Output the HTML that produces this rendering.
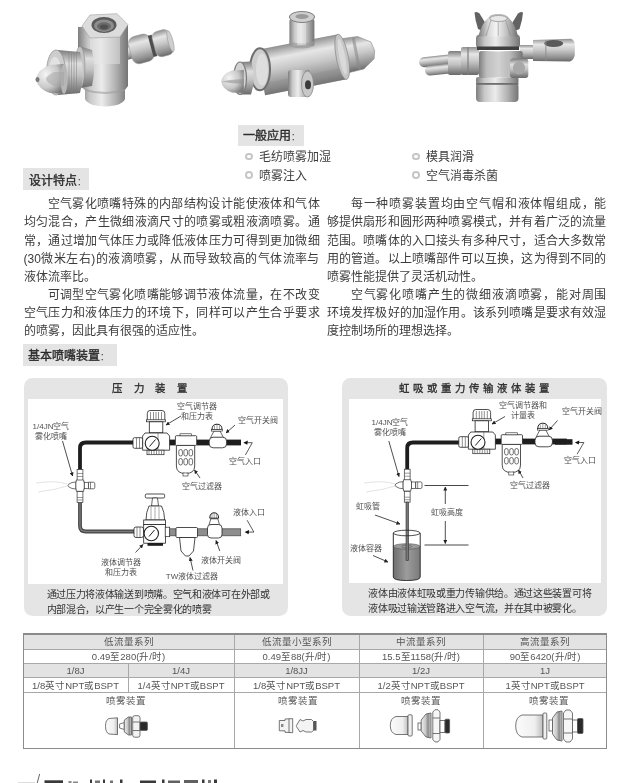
<!DOCTYPE html>
<html lang="zh-CN">
<head>
<meta charset="utf-8">
<style>
html,body{margin:0;padding:0;background:#fff;}
body{filter:blur(0.3px);}
body{width:621px;height:783px;overflow:hidden;position:relative;font-family:"Liberation Sans",sans-serif;color:#3a3a3a;}
.a{position:absolute;}
.lbl{position:absolute;background:#e4e4e4;font-size:12px;font-weight:normal;-webkit-text-stroke:0.35px #2a2a2a;color:#2a2a2a;line-height:21px;}
.lbl span span{-webkit-text-stroke:0;}
.ln{position:absolute;font-size:12px;height:18px;line-height:18px;text-align:justify;text-align-last:justify;white-space:normal;overflow:hidden;color:#3c3c3c;}
.ln.nj{text-align-last:left;}
.bul{position:absolute;font-size:12px;line-height:16px;color:#3c3c3c;}
.bul i{position:absolute;left:-13.8px;top:3.9px;width:3.6px;height:3.6px;border:2.1px solid #c6c6c6;border-radius:50%;}
.box{position:absolute;background:#e5e5e5;border-radius:8.5px;}
.box .in{position:absolute;background:#fff;}
.box .tt{position:absolute;left:0;right:0;top:3.5px;text-align:center;font-size:10.4px;font-weight:normal;-webkit-text-stroke:0.3px #2a2a2a;color:#2a2a2a;line-height:16px;white-space:nowrap;}
.cap{position:absolute;font-size:10px;letter-spacing:-0.3px;line-height:14px;height:14px;color:#333;white-space:nowrap;}
.cap.nj{text-align-last:left;}
.dl{position:absolute;font-size:8px;line-height:10px;color:#505050;margin-top:1px;white-space:nowrap;text-align:center;}
.tb{position:absolute;font-size:9.5px;color:#555;line-height:14px;text-align:center;white-space:nowrap;}
</style>
</head>
<body>

<!-- PHOTOS -->
<svg class="a" style="left:0;top:0" width="621" height="112" viewBox="0 0 621 112" id="photos">
<defs>
 <linearGradient id="mh" x1="0" y1="0" x2="1" y2="0">
  <stop offset="0" stop-color="#7e7e7e"/><stop offset="0.2" stop-color="#c8c8c8"/><stop offset="0.45" stop-color="#ececec"/><stop offset="0.75" stop-color="#b0b0b0"/><stop offset="1" stop-color="#747474"/>
 </linearGradient>
 <linearGradient id="mv" x1="0" y1="0" x2="0" y2="1">
  <stop offset="0" stop-color="#909090"/><stop offset="0.25" stop-color="#e6e6e6"/><stop offset="0.5" stop-color="#c8c8c8"/><stop offset="0.85" stop-color="#8c8c8c"/><stop offset="1" stop-color="#686868"/>
 </linearGradient>
 <linearGradient id="mv2" x1="0" y1="0" x2="0" y2="1">
  <stop offset="0" stop-color="#7c7c7c"/><stop offset="0.3" stop-color="#dedede"/><stop offset="0.55" stop-color="#c4c4c4"/><stop offset="1" stop-color="#6a6a6a"/>
 </linearGradient>
 <linearGradient id="body2" x1="0" y1="0" x2="0.25" y2="1">
  <stop offset="0" stop-color="#dcdcdc"/><stop offset="0.35" stop-color="#e8e8e8"/><stop offset="0.7" stop-color="#c2c2c2"/><stop offset="1" stop-color="#8a8a8a"/>
 </linearGradient>
 <linearGradient id="domeh" x1="0" y1="0" x2="1" y2="0">
  <stop offset="0" stop-color="#7a7a7a"/><stop offset="0.25" stop-color="#d8d8d8"/><stop offset="0.45" stop-color="#f4f4f4"/><stop offset="0.7" stop-color="#c4c4c4"/><stop offset="1" stop-color="#707070"/>
 </linearGradient>
 <radialGradient id="dome" cx="0.4" cy="0.3" r="0.8">
  <stop offset="0" stop-color="#fafafa"/><stop offset="0.45" stop-color="#d0d0d0"/><stop offset="1" stop-color="#6d6d6d"/>
 </radialGradient>
 <radialGradient id="tipg" cx="0.35" cy="0.35" r="0.75">
  <stop offset="0" stop-color="#f5f5f5"/><stop offset="0.6" stop-color="#c8c8c8"/><stop offset="1" stop-color="#7a7a7a"/>
 </radialGradient>
</defs>

<!-- ============ photo 1 ============ -->
<g>
 <!-- right fitting -->
 <g transform="rotate(-15 141 49)">
  <rect x="123" y="42" width="9" height="14" fill="url(#mv)"/>
  <rect x="130" y="35" width="22.5" height="28" rx="7" fill="url(#mv)" stroke="#9a9a9a" stroke-width="0.5"/>
  <rect x="151" y="38" width="4" height="22" fill="#4e4e4e"/>
  <rect x="154.5" y="36" width="18" height="26" rx="6" fill="url(#mv)" stroke="#9a9a9a" stroke-width="0.5"/>
  <ellipse cx="171.5" cy="49" rx="2.5" ry="11" fill="#cfcfcf" stroke="#9a9a9a" stroke-width="0.6"/>
 </g>
 <!-- hex column: upper hex prism -->
 <path d="M78,27 L78,64 L90,70 L120,70 L128,64 L128,25 Z" fill="url(#mh)"/>
 <path d="M90,38 L90,70 L120,70 L120,37Z" fill="#e6e6e6" opacity="0.5"/>
 <!-- lower cylinder -->
 <path d="M80,64 L80,86 L85,90 L85,99 Q88,106 105,106.5 Q122,106 125,99 L125,90 L128,86 L128,64 Z" fill="url(#mh)"/>
 <path d="M85,89 Q105,95 125,89 L125,91 Q105,97 85,91Z" fill="#9c9c9c" opacity="0.6"/>
 <path d="M82,26 L90,15 L117,13.7 L128,24.7 L120,37 L90,38 Z" fill="#dcdcdc" stroke="#a0a0a0" stroke-width="0.6"/>
 <ellipse cx="104" cy="25" rx="12.5" ry="8" fill="#5a5a5a"/>
 <ellipse cx="104" cy="25.7" rx="10" ry="6.2" fill="#8e8e8e"/>
 <ellipse cx="104" cy="26.4" rx="7" ry="4.2" fill="#6a6a6a"/>
 <ellipse cx="104" cy="27" rx="4" ry="2.4" fill="#505050"/>
 <!-- ring between nut and body -->
 <path d="M79,46 L92,50 Q96,68 92,86 L79,88 Z" fill="url(#mv2)"/>
 <ellipse cx="80" cy="67" rx="5" ry="20.5" fill="#c4c4c4" stroke="#8a8a8a" stroke-width="0.6"/>
 <!-- knurled nut -->
 <path d="M58,50 L80,52 Q86,72 80,93 L58,95 Z" fill="url(#mv2)"/>
 <g stroke="#7e7e7e" stroke-width="0.6" opacity="0.8">
  <line x1="69" y1="52" x2="69" y2="94"/><line x1="71.5" y1="52" x2="71.5" y2="94"/><line x1="74" y1="52" x2="74" y2="94"/><line x1="76.5" y1="52" x2="76.5" y2="94"/>
 </g>
 <ellipse cx="56" cy="72.5" rx="9.5" ry="22.5" fill="#cdcdcd" stroke="#8e8e8e" stroke-width="0.7"/>
 <ellipse cx="55" cy="73" rx="6.5" ry="16" fill="#e2e2e2"/>
 <!-- tip -->
 <path d="M64,64 L50,65 Q38,69 35.8,79 Q38,89 50,93 L64,94 Z" fill="url(#tipg)"/>
 <ellipse cx="64" cy="79" rx="3.5" ry="15" fill="#b6b6b6"/>
 <path d="M64,72 L54,72 Q46,76 46,79 Q46,82 54,86 L64,86Z" fill="#a2a2a2" opacity="0.5"/>
 <ellipse cx="37.5" cy="79.5" rx="2" ry="2.5" fill="#7a7a7a"/>
</g>

<!-- ============ photo 2 ============ -->
<g>
 <g transform="rotate(-11 300 65)">
  <!-- right nozzle -->
  <path d="M343,47 L362,48 L374,56 L376,65 L374,73 L362,81 L343,82 Z" fill="url(#mv)" stroke="#8e8e8e" stroke-width="0.6"/>
  <rect x="356" y="48" width="3" height="33" fill="#8a8a8a" opacity="0.6"/>
  <!-- barrel -->
  <rect x="260" y="42" width="83" height="46" fill="url(#mv)"/>
  <rect x="260" y="76" width="83" height="12" fill="#8c8c8c" opacity="0.35"/>
  <ellipse cx="343" cy="65" rx="6" ry="23" fill="#c6c6c6" stroke="#888" stroke-width="0.7"/>
  <ellipse cx="343" cy="65" rx="3" ry="18" fill="#dadada"/>
 </g>
 <!-- left rim (o-ring) -->
 <ellipse cx="260" cy="69.3" rx="10" ry="21" fill="#cdcdcd" stroke="#6e6e6e" stroke-width="2"/>
 <ellipse cx="262" cy="69.5" rx="6" ry="16" fill="#dedede"/>
 <!-- disc -->
 <path d="M240,62 L251,61.5 Q257,78 251,94.5 L240,94.4Z" fill="url(#mv2)"/>
 <ellipse cx="240" cy="78.2" rx="6.5" ry="16.2" fill="#d2d2d2" stroke="#7a7a7a" stroke-width="1.2"/>
 <!-- tip -->
 <path d="M243.8,70 L232,70.5 Q222,74 221.2,81.5 Q222,89 232,92.5 L243.8,93Z" fill="url(#tipg)"/>
 <path d="M243.8,79 L230,80 L222,81.5 L230,83 L243.8,84Z" fill="#8e8e8e" opacity="0.55"/>
 <!-- top fitting -->
 <rect x="289.4" y="19" width="25" height="27" rx="2" fill="url(#mh)"/>
 <path d="M289.4,46 Q302,51 314.4,46 L314.4,41 Q302,46 289.4,41Z" fill="#9a9a9a" opacity="0.7"/>
 <rect x="297" y="20" width="9" height="25" fill="#e8e8e8" opacity="0.5"/>
 <ellipse cx="302" cy="17" rx="12.6" ry="5.5" fill="#cfcfcf" stroke="#7e7e7e" stroke-width="1"/>
 <ellipse cx="302" cy="16.5" rx="6.5" ry="2.6" fill="#9a9a9a"/>
 <!-- bottom fitting -->
 <rect x="288" y="70" width="22" height="27" rx="3" fill="url(#mh)"/>
 <ellipse cx="307.5" cy="84" rx="6" ry="13" fill="#c8c8c8" stroke="#8a8a8a" stroke-width="0.8"/>
 <ellipse cx="308" cy="84.7" rx="3" ry="4.5" fill="#3a3a3a"/>
</g>

<!-- ============ photo 3 ============ -->
<g>
 <!-- left tubes -->
 <g transform="rotate(-6 459 60)">
  <rect x="419" y="53.5" width="42" height="10" rx="5" fill="url(#mv)"/>
  <rect x="424" y="62.5" width="37" height="10" rx="5" fill="url(#mv)"/>
 </g>
 <!-- left fitting nuts -->
 <rect x="448" y="51" width="14" height="24" rx="2" fill="url(#mv2)"/>
 <rect x="461" y="47" width="18" height="28" rx="2" fill="url(#mv)"/>
 <rect x="467" y="47" width="2" height="28" fill="#7e7e7e" opacity="0.6"/>
 <!-- right rod + eye -->
 <rect x="520" y="45" width="14" height="14" fill="url(#mv)"/>
 <path d="M533,40 L571,38.8 Q575,40 574.8,46 L574.8,55 Q574,60 570,61.4 L533,61 Z" fill="url(#mv)"/>
 <ellipse cx="553.7" cy="43.5" rx="9.5" ry="3.4" fill="#5a5a5a"/>
 <rect x="545" y="40" width="1.5" height="21" fill="#8a8a8a" opacity="0.6"/>
 <!-- bottom cylinder -->
 <rect x="476" y="83" width="42.5" height="19" rx="4" fill="url(#mh)"/>
 <rect x="476" y="77" width="42.5" height="7" rx="2" fill="url(#mh)"/>
 <rect x="476" y="83" width="42.5" height="1.8" fill="#6e6e6e"/>
 <!-- body block -->
 <rect x="479" y="51" width="43.7" height="27" rx="2" fill="url(#mh)"/>
 <rect x="486" y="52" width="22" height="25" fill="#b8b8b8" opacity="0.5"/>
 <!-- right hex nut -->
 <rect x="510" y="58.5" width="18.3" height="19.5" rx="3" fill="url(#mv2)"/>
 <ellipse cx="519" cy="68" rx="6" ry="6.5" fill="#a8a8a8"/>
 <!-- ring -->
 <rect x="476" y="34.6" width="44" height="14" rx="4" fill="url(#mh)"/>
 <rect x="477" y="46.5" width="42" height="3.5" fill="#3f3f3f"/>
 <!-- wings -->
 <path d="M474.5,12.5 Q477,11 479.5,13.5 L486,24 L482.5,31 L478,29 Q475,20 474.5,12.5Z" fill="#626262"/>
 <path d="M523,12.5 Q520.5,11 518,13.5 L511.5,24 L515,31 L519.5,29 Q522.5,20 523,12.5Z" fill="#626262"/>
 <!-- dome -->
 <path d="M478.4,36.5 Q481,24 489.5,16.5 L507.5,16.5 Q515.5,24 518,36.5 Z" fill="url(#domeh)"/>
 <g stroke="#8a8a8a" stroke-width="0.7" opacity="0.8"><line x1="491" y1="20" x2="486" y2="36"/><line x1="498.2" y1="20" x2="498.2" y2="36"/><line x1="505.5" y1="20" x2="510.5" y2="36"/></g>
 <ellipse cx="498.4" cy="17.5" rx="9" ry="3" fill="#e4e4e4" stroke="#9a9a9a" stroke-width="0.7"/>
</g>
 <ellipse cx="498.5" cy="18.5" rx="8.5" ry="3" fill="#e8e8e8" stroke="#9a9a9a" stroke-width="0.7"/>
</g>
 <ellipse cx="498.5" cy="18.5" rx="8.5" ry="3" fill="#e8e8e8" stroke="#9a9a9a" stroke-width="0.7"/>
</g>
</svg>

<!-- labels -->
<div class="lbl" style="left:238px;top:125px;width:66px;height:21px;"><span style="position:absolute;left:5px;top:1px">一般应用<span style="font-weight:normal;font-size:9px">：</span></span></div>
<div class="bul" style="left:259px;top:149px;">毛纺喷雾加湿<i></i></div>
<div class="bul" style="left:259px;top:167.5px;">喷雾注入<i></i></div>
<div class="bul" style="left:426px;top:149px;">模具润滑<i></i></div>
<div class="bul" style="left:426px;top:167.5px;">空气消毒杀菌<i></i></div>

<div class="lbl" style="left:23px;top:168px;width:66px;height:22px;"><span style="position:absolute;left:6px;top:2.5px">设计特点<span style="font-weight:normal;font-size:9px">：</span></span></div>

<!-- paragraphs left -->
<div class="ln" style="left:47.5px;top:195px;width:272px;">空气雾化喷嘴特殊的内部结构设计能使液体和气体</div>
<div class="ln" style="left:23.5px;top:213px;width:296px;">均匀混合，产生微细液滴尺寸的喷雾或粗液滴喷雾。通</div>
<div class="ln" style="left:23.5px;top:231.5px;width:296px;">常，通过增加气体压力或降低液体压力可得到更加微细</div>
<div class="ln" style="left:23.5px;top:249.5px;width:296px;">(30微米左右)的液滴喷雾，从而导致较高的气体流率与</div>
<div class="ln nj" style="left:23.5px;top:267.5px;width:296px;">液体流率比。</div>
<div class="ln" style="left:47.5px;top:285.7px;width:272px;">可调型空气雾化喷嘴能够调节液体流量，在不改变</div>
<div class="ln" style="left:23.5px;top:303.9px;width:296px;">空气压力和液体压力的环境下，同样可以产生合乎要求</div>
<div class="ln nj" style="left:23.5px;top:321.8px;width:296px;">的喷雾，因此具有很强的适应性。</div>

<!-- paragraphs right -->
<div class="ln" style="left:350.8px;top:195px;width:255.7px;">每一种喷雾装置均由空气帽和液体帽组成，能</div>
<div class="ln" style="left:326.8px;top:213px;width:279.7px;">够提供扇形和圆形两种喷雾模式，并有着广泛的流量</div>
<div class="ln" style="left:326.8px;top:231.5px;width:279.7px;">范围。喷嘴体的入口接头有多种尺寸，适合大多数常</div>
<div class="ln" style="left:326.8px;top:249.5px;width:279.7px;">用的管道。以上喷嘴部件可以互换，这为得到不同的</div>
<div class="ln nj" style="left:326.8px;top:267.5px;width:279.7px;">喷雾性能提供了灵活机动性。</div>
<div class="ln" style="left:350.8px;top:285.7px;width:255.7px;">空气雾化喷嘴产生的微细液滴喷雾，能对周围</div>
<div class="ln" style="left:326.8px;top:303.9px;width:279.7px;">环境发挥极好的加湿作用。该系列喷嘴是要求有效湿</div>
<div class="ln nj" style="left:326.8px;top:321.8px;width:279.7px;">度控制场所的理想选择。</div>

<div class="lbl" style="left:23px;top:344px;width:94px;height:22px;"><span style="position:absolute;left:5px;top:1.5px">基本喷嘴装置<span style="font-weight:normal;font-size:9px">：</span></span></div>

<!-- diagram boxes -->
<div class="box" style="left:23.5px;top:377.7px;width:264.3px;height:238.5px;">
  <div class="tt" style="letter-spacing:11.5px;left:-1px;">压力装置</div>
  <div class="in" style="left:4.8px;top:21px;width:254.4px;height:185px;"></div>
  <div class="cap" style="left:23px;top:210.5px;">通过压力将液体输送到喷嘴。空气和液体可在外部或</div>
  <div class="cap" style="left:23px;top:225.7px;">内部混合，以产生一个完全雾化的喷雾</div>
</div>
<div class="box" style="left:342.2px;top:377.7px;width:264.5px;height:238.2px;">
  <div class="tt" style="letter-spacing:4px;left:3px;">虹吸或重力传输液体装置</div>
  <div class="in" style="left:6.7px;top:21.3px;width:252.1px;height:184.4px;"></div>
  <div class="cap" style="left:26px;top:209.3px;">液体由液体虹吸或重力传输供给。通过这些装置可将</div>
  <div class="cap" style="left:26px;top:224.2px;">液体吸过输送管路进入空气流，并在其中被雾化。</div>
</div>

<!-- DIAGRAMS -->
<svg class="a" style="left:0;top:0" width="621" height="620" viewBox="0 0 621 620">
<defs>
 <marker id="ah" viewBox="0 0 10 10" refX="9" refY="5" markerWidth="5" markerHeight="5" orient="auto">
  <path d="M0,0 L10,5 L0,10 Z" fill="#222"/>
 </marker>
 <linearGradient id="liq" x1="0" y1="0" x2="1" y2="0">
  <stop offset="0" stop-color="#6e6e6e"/><stop offset="0.5" stop-color="#9c9c9c"/><stop offset="1" stop-color="#7a7a7a"/>
 </linearGradient>
 <g id="nozT">
  <!-- centered at (0,0) body center -->
  <rect x="-2.9" y="-16" width="5.8" height="11" fill="#fff" stroke="#333" stroke-width="0.7"/>
  <line x1="-2.9" y1="-12" x2="2.9" y2="-12" stroke="#555" stroke-width="0.6"/>
  <line x1="-2.9" y1="-9" x2="2.9" y2="-9" stroke="#555" stroke-width="0.6"/>
  <rect x="-2.9" y="6" width="5.8" height="11" fill="#fff" stroke="#333" stroke-width="0.7"/>
  <line x1="-2.9" y1="12" x2="2.9" y2="12" stroke="#555" stroke-width="0.6"/>
  <line x1="-2.9" y1="14.5" x2="2.9" y2="14.5" stroke="#555" stroke-width="0.6"/>
  <path d="M-3.7,-3.7 L-3.7,-5.5 L3.7,-5.5 L3.7,-3.7 L4.3,-3.7 L4.3,3.7 L3.7,3.7 L3.7,5.8 L-3.7,5.8 L-3.7,3.7 L-4.3,3.7 L-4.3,-3.7Z" fill="#fff" stroke="#333" stroke-width="0.7"/>
  <path d="M-4.3,-3.5 L-8,-3 L-11.5,-1.2 L-12,0 L-11.5,1.2 L-8,3 L-4.3,3.5Z" fill="#fff" stroke="#333" stroke-width="0.7"/>
  <rect x="4.3" y="-3.2" width="4" height="6.4" fill="#fff" stroke="#333" stroke-width="0.7"/>
  <path d="M8.5,-3.3 L13.5,-3.3 Q14.8,-3.3 14.8,-1.8 L14.8,1.8 Q14.8,3.3 13.5,3.3 L8.5,3.3Z" fill="#fff" stroke="#333" stroke-width="0.7"/>
  <line x1="10.5" y1="-3.3" x2="10.5" y2="3.3" stroke="#333" stroke-width="0.6"/>
 </g>
 <g id="airset">
  <!-- regulator; origin at page coords of left diagram -->
  <path d="M147.3,420.5 L147.3,413.5 Q147.3,410.5 150,410.5 L162,410.5 Q164.8,410.5 164.8,413.5 L164.8,420.5Z" fill="#fff" stroke="#222" stroke-width="0.8"/>
  <g stroke="#444" stroke-width="0.6"><line x1="150.5" y1="412" x2="150.5" y2="420"/><line x1="153.5" y1="412" x2="153.5" y2="420"/><line x1="156" y1="412" x2="156" y2="420"/><line x1="158.5" y1="412" x2="158.5" y2="420"/><line x1="161.5" y1="412" x2="161.5" y2="420"/></g>
  <rect x="146.5" y="419.8" width="19" height="2" fill="#fff" stroke="#222" stroke-width="0.7"/>
  <rect x="149.3" y="421.8" width="13.5" height="11" fill="#fff" stroke="#222" stroke-width="0.8"/>
  <path d="M142.6,436 L145,433 L167,433 L169.6,436 L169.6,450.2 L142.6,450.2Z" fill="#fff" stroke="#222" stroke-width="0.8"/>
  <line x1="158" y1="433" x2="158" y2="450" stroke="#555" stroke-width="0.6"/>
  <rect x="147" y="450.2" width="17" height="4.5" fill="#fff" stroke="#222" stroke-width="0.7"/>
  <g stroke="#444" stroke-width="0.6"><line x1="149" y1="450.5" x2="149" y2="454.5"/><line x1="151.5" y1="450.5" x2="151.5" y2="454.5"/><line x1="154" y1="450.5" x2="154" y2="454.5"/><line x1="156.5" y1="450.5" x2="156.5" y2="454.5"/><line x1="159" y1="450.5" x2="159" y2="454.5"/><line x1="161.5" y1="450.5" x2="161.5" y2="454.5"/></g>
  <circle cx="152.2" cy="443.3" r="7" fill="#fff" stroke="#222" stroke-width="1.1"/>
  <line x1="149.5" y1="446.5" x2="155.5" y2="439.5" stroke="#222" stroke-width="1"/>
  <rect x="133" y="437.7" width="9.6" height="10.6" rx="1.5" fill="#fff" stroke="#222" stroke-width="0.8"/>
  <line x1="136.5" y1="437.7" x2="136.5" y2="448.3" stroke="#444" stroke-width="0.6"/>
  <line x1="139.5" y1="437.7" x2="139.5" y2="448.3" stroke="#444" stroke-width="0.6"/>
  <!-- tube reg->filter -->
  <rect x="169.6" y="439.6" width="6" height="5.8" fill="#1e1e1e"/>
  <!-- filter -->
  <path d="M176.4,445.4 L194.7,445.4 L194.7,466 Q194.7,473.5 185.5,473.5 Q176.4,473.5 176.4,466Z" fill="#fff" stroke="#222" stroke-width="0.8"/>
  <rect x="183" y="473" width="5" height="3" fill="#fff" stroke="#222" stroke-width="0.6"/>
  <g fill="none" stroke="#333" stroke-width="0.7">
   <rect x="178.8" y="449.5" width="3.6" height="6.5" rx="1.8"/><rect x="183.9" y="449.5" width="3.6" height="6.5" rx="1.8"/><rect x="189" y="449.5" width="3.6" height="6.5" rx="1.8"/>
   <rect x="178.8" y="458.5" width="3.6" height="6.5" rx="1.8"/><rect x="183.9" y="458.5" width="3.6" height="6.5" rx="1.8"/><rect x="189" y="458.5" width="3.6" height="6.5" rx="1.8"/>
  </g>
  <rect x="175.4" y="435.7" width="21.3" height="9.7" rx="1" fill="#fff" stroke="#222" stroke-width="0.8"/>
  <rect x="180" y="433.8" width="11.5" height="2" fill="#fff" stroke="#222" stroke-width="0.6"/>
  <!-- tube filter->end -->
  <rect x="196.7" y="439.6" width="44.3" height="5.8" fill="#1e1e1e"/>
  <!-- valve -->
  <path d="M214,431 L220,431 L223.5,437.7 L210.5,437.7Z" fill="#fff" stroke="#222" stroke-width="0.7"/>
  <path d="M212,429.6 Q212,424.2 217,424.2 Q222,424.2 222,429.6 Z" fill="#fff" stroke="#222" stroke-width="1"/>
  <g stroke="#444" stroke-width="0.5"><line x1="214.5" y1="425.5" x2="214.5" y2="429.3"/><line x1="217" y1="424.8" x2="217" y2="429.3"/><line x1="219.5" y1="425.5" x2="219.5" y2="429.3"/></g>
  <rect x="211.5" y="429.5" width="11" height="1.6" fill="#fff" stroke="#222" stroke-width="0.6"/>
  <rect x="209.2" y="437.2" width="17.4" height="10.6" rx="4" fill="#fff" stroke="#222" stroke-width="0.8"/>
 </g>
</defs>

<!-- ===== LEFT DIAGRAM ===== -->
<path d="M80,470 L80,448 Q80,442.5 86,442.5 L133,442.5" fill="none" stroke="#1e1e1e" stroke-width="3.8"/>
<use href="#airset"/>
<!-- liquid pipe -->
<path d="M80,502 L80,526 Q80,531.5 86,531.5 L135,531.5" fill="none" stroke="#454545" stroke-width="3.8"/>
<path d="M80,502 L80,526 Q80,531.5 86,531.5 L135,531.5" fill="none" stroke="#7a7a7a" stroke-width="1.4"/>
<use href="#nozT" x="80" y="485.5"/>
<!-- spray lines -->
<g stroke="#dcdcdc" stroke-width="0.8" fill="none"><path d="M67,484 Q55,480 36,483"/><path d="M67,486 Q55,490 38,492"/></g>
<!-- liquid regulator -->
<rect x="145.3" y="494" width="19.3" height="4" rx="1.2" fill="#fff" stroke="#222" stroke-width="0.8"/>
<path d="M152.5,498 L157.5,498 L158.5,506 L151.5,506Z" fill="#fff" stroke="#222" stroke-width="0.7"/>
<path d="M149,506 L161.5,506 Q164.6,512 164.6,520 L146,520 Q146,512 149,506Z" fill="#fff" stroke="#222" stroke-width="0.8"/>
<g stroke="#555" stroke-width="0.5"><line x1="151" y1="507" x2="151" y2="519.5"/><line x1="155" y1="507" x2="155" y2="519.5"/><line x1="159" y1="507" x2="159" y2="519.5"/></g>
<rect x="143.7" y="520" width="21.7" height="4.6" fill="#fff" stroke="#222" stroke-width="0.8"/>
<rect x="143.7" y="524.6" width="21.7" height="18.6" fill="#fff" stroke="#222" stroke-width="0.8"/>
<rect x="147.5" y="543" width="15.5" height="2.8" fill="#1e1e1e"/>
<rect x="165.2" y="527.2" width="4.5" height="9.5" fill="#fff" stroke="#222" stroke-width="0.7"/>
<circle cx="151.3" cy="533.5" r="7.2" fill="#fff" stroke="#222" stroke-width="1.1"/>
<line x1="149" y1="536.5" x2="154.5" y2="530" stroke="#222" stroke-width="1"/>
<rect x="134" y="527" width="9.5" height="10.5" rx="2" fill="#fff" stroke="#222" stroke-width="0.8"/>
<line x1="137" y1="527" x2="137" y2="537.5" stroke="#444" stroke-width="0.6"/>
<line x1="140" y1="527" x2="140" y2="537.5" stroke="#444" stroke-width="0.6"/>
<!-- grey pipe to right -->
<rect x="169.7" y="528.8" width="71" height="7" fill="#8e8e8e" stroke="#444" stroke-width="0.7"/>
<!-- TW filter -->
<path d="M179.5,537.5 L195,537.5 L193.5,551 L189,556 L185.5,556 L181,551Z" fill="#fff" stroke="#222" stroke-width="0.8"/>
<rect x="176" y="527.5" width="21.5" height="10" rx="1" fill="#fff" stroke="#222" stroke-width="0.8"/>
<!-- liquid valve -->
<path d="M210.8,518.8 L217.8,518.8 L219.5,524.8 L209,524.8Z" fill="#fff" stroke="#222" stroke-width="0.7"/>
<path d="M209.8,518.2 Q209.8,512.8 214.2,512.8 Q218.6,512.8 218.6,518.2 Z" fill="#fff" stroke="#222" stroke-width="1"/>
<g stroke="#444" stroke-width="0.5"><line x1="212" y1="513" x2="212" y2="518"/><line x1="214.2" y1="512.3" x2="214.2" y2="518"/><line x1="216.4" y1="513" x2="216.4" y2="518"/></g>
<rect x="207.5" y="524.5" width="14.5" height="13.5" rx="3.5" fill="#fff" stroke="#222" stroke-width="0.8"/>
<!-- arrows / pointers left -->
<g stroke="#222" stroke-width="0.8" fill="none" marker-end="url(#ah)">
 <line x1="62.5" y1="441" x2="72.6" y2="476"/>
 <line x1="181" y1="416" x2="166" y2="425"/>
 <line x1="235" y1="425" x2="226" y2="433"/>
 <line x1="200" y1="478" x2="194.5" y2="470"/>
 <line x1="135.5" y1="552.5" x2="143" y2="544.5"/>
 <line x1="219.8" y1="551" x2="216" y2="540.5"/>
 <line x1="193" y1="570.5" x2="190" y2="557.5"/>
</g>
<g stroke="#333" stroke-width="0.8" fill="none">
 <path d="M245.4,455 L252.3,442.7 L246,442.7"/>
 <path d="M247.1,520.2 L253.9,532.1 L247,532.1"/>
</g>
<g fill="#111">
 <path d="M243.3,442.7 L247.8,440.6 L247.3,444.8Z"/>
 <path d="M244.6,532.1 L249.1,530 L248.6,534.2Z"/>
</g>

<!-- ===== RIGHT DIAGRAM ===== -->
<path d="M407.2,470 L407.2,448 Q407.2,442.5 413,442.5 L460,442.5" fill="none" stroke="#1e1e1e" stroke-width="3.8"/>
<use href="#airset" transform="translate(325.8,-1)"/>
<rect x="555" y="439.2" width="17.5" height="5.5" fill="#1e1e1e"/>
<use href="#nozT" x="407.2" y="485.2"/>
<g stroke="#dcdcdc" stroke-width="0.8" fill="none"><path d="M395,484 Q383,480 364,483"/><path d="M395,486 Q383,490 366,492"/></g>
<!-- beaker -->
<path d="M393.3,534 L393.3,577 Q393.3,580.5 406.7,580.5 Q420.2,580.5 420.2,577 L420.2,534" fill="url(#liq)" stroke="none"/>
<rect x="393.3" y="530" width="26.9" height="16.5" fill="#fff"/>
<ellipse cx="406.7" cy="546.5" rx="13.4" ry="2.8" fill="#9a9a9a" stroke="#555" stroke-width="0.6"/>
<ellipse cx="406.7" cy="546.5" rx="5" ry="1.5" fill="none" stroke="#555" stroke-width="0.6"/>
<!-- siphon tube -->
<rect x="406" y="502" width="2.6" height="58.5" fill="#777" stroke="#333" stroke-width="0.6"/>
<path d="M393.3,533 L393.3,577 Q393.3,580.5 406.7,580.5 Q420.2,580.5 420.2,577 L420.2,533" fill="none" stroke="#222" stroke-width="0.9"/>
<ellipse cx="406.7" cy="533" rx="13.4" ry="2.8" fill="none" stroke="#222" stroke-width="0.8"/>
<!-- dimension -->
<g stroke="#333" stroke-width="0.9">
 <line x1="424.5" y1="485.5" x2="468.5" y2="485.5"/>
 <line x1="424.5" y1="545" x2="468.5" y2="545"/>
</g>
<g stroke="#222" stroke-width="0.8" fill="none" marker-end="url(#ah)">
 <line x1="445.3" y1="504" x2="445.3" y2="487"/>
 <line x1="445.3" y1="521" x2="445.3" y2="543.5"/>
</g>
<g stroke="#222" stroke-width="0.8" fill="none" marker-end="url(#ah)">
 <line x1="388.8" y1="441" x2="399" y2="476.6"/>
 <line x1="505" y1="416.5" x2="492" y2="424"/>
 <line x1="557.5" y1="420.5" x2="549" y2="430"/>
 <line x1="523" y1="478" x2="518.5" y2="470"/>
 <line x1="375" y1="515" x2="400" y2="524"/>
 <line x1="373" y1="555.5" x2="388" y2="562"/>
</g>
<g stroke="#333" stroke-width="0.8" fill="none">
 <path d="M577.1,454.2 L583.9,442.5 L577.5,442.5"/>
</g>
<path d="M574.8,442.5 L579.3,440.4 L578.8,444.6Z" fill="#111"/>
</svg>
<!-- labels -->
<div class="dl" style="left:21px;top:421px;width:60px;">1/4JN空气<br>雾化喷嘴</div>
<div class="dl" style="left:167px;top:401px;width:60px;">空气调节器<br>和压力表</div>
<div class="dl" style="left:228px;top:415px;width:60px;">空气开关阀</div>
<div class="dl" style="left:215px;top:456px;width:60px;">空气入口</div>
<div class="dl" style="left:172px;top:481px;width:60px;">空气过滤器</div>
<div class="dl" style="left:91px;top:557px;width:60px;">液体调节器<br>和压力表</div>
<div class="dl" style="left:219px;top:507px;width:60px;">液体入口</div>
<div class="dl" style="left:191px;top:555px;width:60px;">液体开关阀</div>
<div class="dl" style="left:156px;top:571px;width:72px;">TW液体过滤器</div>

<div class="dl" style="left:360px;top:417px;width:60px;">1/4JN空气<br>雾化喷嘴</div>
<div class="dl" style="left:488px;top:400px;width:70px;">空气调节器和<br>计量表</div>
<div class="dl" style="left:552px;top:406px;width:60px;">空气开关阀</div>
<div class="dl" style="left:550px;top:454.5px;width:60px;">空气入口</div>
<div class="dl" style="left:500px;top:480px;width:60px;">空气过滤器</div>
<div class="dl" style="left:338px;top:501px;width:60px;">虹吸管</div>
<div class="dl" style="left:417px;top:507px;width:60px;">虹吸高度</div>
<div class="dl" style="left:336px;top:543px;width:60px;">液体容器</div>
<!-- /DIAGRAMS -->

<!-- table -->
<div class="a" style="left:23px;top:633px;width:584px;height:116px;">
  <svg class="a" style="left:0;top:0" width="584" height="116">
    <rect x="0" y="1" width="584" height="15.5" fill="#e3e3e3"/>
    <rect x="0" y="30.5" width="584" height="14" fill="#e3e3e3"/>
    <g stroke="#a8a8a8" stroke-width="1" fill="none">
      <line x1="0" y1="16.5" x2="584" y2="16.5"/>
      <line x1="0" y1="30.5" x2="584" y2="30.5"/>
      <line x1="0" y1="44.5" x2="584" y2="44.5"/>
      <line x1="0" y1="59.5" x2="584" y2="59.5"/>
      <line x1="105.5" y1="30" x2="105.5" y2="59.5"/>
      <line x1="211.5" y1="1" x2="211.5" y2="115"/>
      <line x1="336.5" y1="1" x2="336.5" y2="115"/>
      <line x1="460.5" y1="1" x2="460.5" y2="115"/>
    </g>
    <rect x="0.5" y="1" width="583" height="114.5" fill="none" stroke="#8c8c8c" stroke-width="1"/>
    <line x1="0" y1="1" x2="584" y2="1" stroke="#8a8a8a" stroke-width="2"/>
  </svg>
</div>
<div class="tb" style="left:23px;top:635px;width:211px;">低流量系列</div>
<div class="tb" style="left:234px;top:635px;width:125px;">低流量小型系列</div>
<div class="tb" style="left:359px;top:635px;width:124px;">中流量系列</div>
<div class="tb" style="left:483px;top:635px;width:124px;">高流量系列</div>
<div class="tb" style="left:23px;top:650px;width:211px;">0.49至280(升/时)</div>
<div class="tb" style="left:234px;top:650px;width:125px;">0.49至88(升/时)</div>
<div class="tb" style="left:359px;top:650px;width:124px;">15.5至1158(升/时)</div>
<div class="tb" style="left:483px;top:650px;width:124px;">90至6420(升/时)</div>
<div class="tb" style="left:23px;top:664px;width:105px;">1/8J</div>
<div class="tb" style="left:128px;top:664px;width:106px;">1/4J</div>
<div class="tb" style="left:234px;top:664px;width:125px;">1/8JJ</div>
<div class="tb" style="left:359px;top:664px;width:124px;">1/2J</div>
<div class="tb" style="left:483px;top:664px;width:124px;">1J</div>
<div class="tb" style="left:23px;top:679px;width:105px;">1/8英寸NPT或BSPT</div>
<div class="tb" style="left:128px;top:679px;width:106px;">1/4英寸NPT或BSPT</div>
<div class="tb" style="left:234px;top:679px;width:125px;">1/8英寸NPT或BSPT</div>
<div class="tb" style="left:359px;top:679px;width:124px;">1/2英寸NPT或BSPT</div>
<div class="tb" style="left:483px;top:679px;width:124px;">1英寸NPT或BSPT</div>
<div class="tb" style="left:20px;top:694px;width:211px;">喷雾装置</div>
<div class="tb" style="left:235.5px;top:694px;width:125px;">喷雾装置</div>
<div class="tb" style="left:359px;top:694px;width:124px;">喷雾装置</div>
<div class="tb" style="left:487px;top:694px;width:124px;">喷雾装置</div>



<!-- TABLE IMAGES -->
<svg class="a" style="left:0;top:700px" width="621" height="83" viewBox="0 700 621 83">
<defs>
 <linearGradient id="capg" x1="0" y1="0" x2="1" y2="0">
  <stop offset="0" stop-color="#fbfbfb"/><stop offset="0.7" stop-color="#efefef"/><stop offset="1" stop-color="#bdbdbd"/>
 </linearGradient>
 <linearGradient id="bandg" x1="0" y1="0" x2="1" y2="0">
  <stop offset="0" stop-color="#eeeeee"/><stop offset="0.45" stop-color="#c8c8c8"/><stop offset="0.7" stop-color="#8a8a8a"/><stop offset="1" stop-color="#d0d0d0"/>
 </linearGradient>
</defs>
<g stroke="#555" stroke-width="0.8">
 <!-- col1 -->
 <path d="M117.5,717.8 L109,718.5 Q105.5,720 105.5,726.2 Q105.5,732.5 109,734 L117.5,734.6Z" fill="url(#capg)"/>
 <path d="M119.6,724 L124.3,722.5 L124.3,729.5 L119.6,728Z" fill="#fff"/>
 <path d="M124.3,720 L128.5,717 L131.5,717 L131.5,735 L128.5,735 L124.3,732Z" fill="url(#bandg)"/>
 <rect x="132.7" y="715.7" width="7.3" height="21.5" rx="2" fill="#f2f2f2"/>
 <line x1="132.7" y1="722" x2="140" y2="722"/><line x1="132.7" y1="730.5" x2="140" y2="730.5"/>
 <rect x="140" y="722" width="7.4" height="8.4" rx="1" fill="#2a2a2a"/>
 <!-- col2 -->
 <path d="M279.3,720.5 L285,720.5 L285,719 L292.7,718.6 L292.7,732.7 L285,732.3 L285,730.8 L279.3,730.8Z" fill="#f4f4f4"/>
 <line x1="289" y1="718.8" x2="289" y2="732.5"/>
 <rect x="281" y="724" width="2.4" height="3" fill="#888" stroke="none"/>
 <path d="M296.4,725.5 L300,719.5 L303,721 L306,719.5 L311.5,719.5 L313.5,721.5 L313.5,730.5 L311.5,732 L306,732 L303,730.5 L300,732 L296.4,726.5Z" fill="#f4f4f4"/>
 <rect x="313.5" y="721" width="3" height="9.5" fill="#555" stroke="none"/>
 <!-- col3 -->
 <path d="M408,716.5 L396,716.5 Q390.3,718 390.3,725.5 Q390.3,733 396,734.5 L408,734.5Z" fill="url(#capg)"/>
 <rect x="408" y="714.8" width="4.2" height="21.2" rx="1" fill="#efefef"/>
 <rect x="418" y="723" width="3.2" height="7" fill="#fff"/>
 <path d="M421.2,720 L426,714 L431,713 L431,738 L426,737 L421.2,731Z" fill="url(#bandg)"/>
 <path d="M432.8,712 L435,709.7 L438,709.7 L440,712 L440,739.5 L438,741.9 L435,741.9 L432.8,739.5Z" fill="#f6f6f6"/>
 <line x1="432.8" y1="718" x2="440" y2="718"/><line x1="432.8" y1="733.5" x2="440" y2="733.5"/>
 <rect x="440" y="720.5" width="5" height="12" fill="#fff"/>
 <rect x="445" y="719.2" width="4.6" height="13.8" rx="1" fill="#2a2a2a"/>
 <!-- col4 -->
 <path d="M543,715 L522,715 Q515.7,717 515.7,726 Q515.7,735 522,737 L543,737Z" fill="url(#capg)"/>
 <rect x="543" y="713" width="3.8" height="26" rx="1" fill="#efefef"/>
 <rect x="549" y="720" width="3.5" height="11" fill="#fff"/>
 <path d="M552.5,718 L557,712 L562,711 L562,741 L557,740 L552.5,734Z" fill="url(#bandg)"/>
 <path d="M563.5,713 L566,710 L570,710 L572.5,713 L572.5,739 L570,742 L566,742 L563.5,739Z" fill="#f6f6f6"/>
 <line x1="563.5" y1="719" x2="572.5" y2="719"/><line x1="563.5" y1="733" x2="572.5" y2="733"/>
 <rect x="572.5" y="720" width="5" height="12" fill="#fff"/>
 <rect x="577.5" y="718.5" width="5.5" height="15" rx="1" fill="#2a2a2a"/>
</g>
<!-- bottom heading -->
<line x1="18" y1="782.5" x2="35" y2="782.5" stroke="#ddd" stroke-width="1"/>
<line x1="39.7" y1="773.9" x2="37.2" y2="783" stroke="#666" stroke-width="1"/>
<g fill="#3a3a3a">
 <rect x="44.5" y="780.3" width="18.5" height="2.7"/>
 <rect x="68.5" y="781" width="3" height="2" opacity="0.6"/><rect x="73" y="781.5" width="5" height="1.5" opacity="0.6"/>
 <rect x="90" y="779.5" width="2" height="3.5"/><rect x="95" y="780.5" width="5" height="2.5" opacity="0.7"/><rect x="103" y="779.5" width="2" height="3.5"/>
 <rect x="110" y="780.5" width="3" height="2.5" opacity="0.7"/><rect x="120" y="779.5" width="2.5" height="3.5"/>
 <rect x="140" y="780.5" width="16" height="2.5"/>
 <rect x="162" y="779.5" width="2.5" height="3.5"/><rect x="168" y="780.5" width="12" height="2.5" opacity="0.8"/>
 <rect x="184" y="780" width="14" height="3" opacity="0.8"/>
 <rect x="202" y="779.5" width="2.5" height="3.5"/><rect x="208" y="780" width="3" height="3" opacity="0.7"/><rect x="214" y="779.5" width="3" height="3.5"/>
</g>
</svg>
</body>
</html>
